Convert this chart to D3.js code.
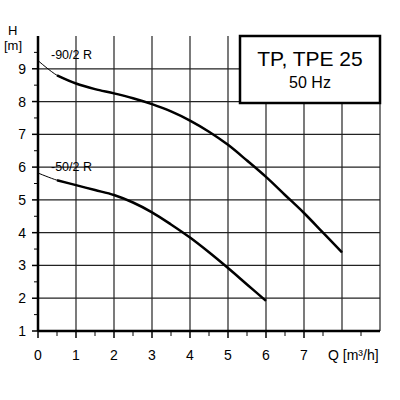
<!DOCTYPE html><html><head><script src="https://cdn.jsdelivr.net/npm/d3@7"></script>
<style>body{margin:0;background:#fff}text{font-family:Arial,"Liberation Sans",sans-serif}</style></head><body><svg width="400" height="400"></svg>
<script>
const xTicks=[0,1,2,3,4,5,6,7];
const yTicks=[1,2,3,4,5,6,7,8,9];
const q90=[0,0.5,1,1.5,2,2.5,3,3.5,4,4.5,5,5.5,6,6.5,7,7.5,8];
const h90=[9.25,8.8,8.55,8.38,8.25,8.1,7.92,7.7,7.42,7.08,6.68,6.2,5.7,5.15,4.6,4.0,3.4];
const q50=[0,0.5,1,1.5,2,2.5,3,3.5,4,4.5,5,5.5,6];
const h50=[5.82,5.6,5.45,5.3,5.15,4.92,4.62,4.25,3.85,3.4,2.92,2.42,1.92];
const svg=d3.select("svg");
const x=d3.scaleLinear().domain([0,9]).range([38,380]);
const y=d3.scaleLinear().domain([1,10]).range([331,36]);
const g=svg.append("g");
d3.range(1,10).forEach(v=>g.append("line").attr("x1",x(v)).attr("x2",x(v)).attr("y1",y(1)).attr("y2",y(10)).attr("stroke","#222").attr("stroke-width",1.2));
d3.range(2,10).forEach(v=>g.append("line").attr("x1",x(0)).attr("x2",x(9)).attr("y1",y(v)).attr("y2",y(v)).attr("stroke","#222").attr("stroke-width",1.2));
d3.range(0.5,9,1).forEach(v=>g.append("line").attr("x1",x(v)).attr("x2",x(v)).attr("y1",y(1)).attr("y2",y(1)+5).attr("stroke","#000"));
xTicks.forEach(v=>g.append("line").attr("x1",x(v)).attr("x2",x(v)).attr("y1",y(1)).attr("y2",y(1)+7).attr("stroke","#000").attr("stroke-width",1.5));
d3.range(1.5,10,1).forEach(v=>g.append("line").attr("x1",x(0)-4).attr("x2",x(0)).attr("y1",y(v)).attr("y2",y(v)).attr("stroke","#000"));
yTicks.forEach(v=>g.append("line").attr("x1",x(0)-6).attr("x2",x(0)).attr("y1",y(v)).attr("y2",y(v)).attr("stroke","#000").attr("stroke-width",1.5));
g.append("line").attr("x1",x(0)).attr("x2",x(0)).attr("y1",y(1)).attr("y2",y(10)).attr("stroke","#000").attr("stroke-width",2.5);
g.append("line").attr("x1",x(0)).attr("x2",x(9)).attr("y1",y(1)).attr("y2",y(1)).attr("stroke","#000").attr("stroke-width",2.5);
xTicks.forEach(v=>g.append("text").attr("x",x(v)).attr("y",360).attr("text-anchor","middle").attr("font-size",14).text(v));
yTicks.forEach(v=>g.append("text").attr("x",x(0)-12).attr("y",y(v)+5).attr("text-anchor","end").attr("font-size",14).text(v));
g.append("text").attr("x",328).attr("y",360).attr("font-size",14).text("Q [m³/h]");
g.append("text").attr("x",8).attr("y",35).attr("font-size",13).text("H");
g.append("text").attr("x",4).attr("y",50).attr("font-size",13).text("[m]");
const line=d3.line().x(d=>x(d[0])).y(d=>y(d[1])).curve(d3.curveCatmullRom);
[[q90,h90,"-90/2 R"],[q50,h50,"-50/2 R"]].forEach(([q,h,l])=>{
 const pts=q.map((v,i)=>[v,h[i]]);
 g.append("path").attr("d",line(pts)).attr("fill","none").attr("stroke","#000").attr("stroke-width",1);
 g.append("path").attr("d",line(pts.slice(1))).attr("fill","none").attr("stroke","#000").attr("stroke-width",2.5);
 g.append("text").attr("x",x(0)+13).attr("y",y(h[0])-2).attr("font-size",12.5).text(l);
});
g.append("rect").attr("x",240).attr("y",36).attr("width",140).attr("height",67).attr("fill","#fff").attr("stroke","#000").attr("stroke-width",2.5);
g.append("text").attr("x",310).attr("y",66).attr("text-anchor","middle").attr("font-size",21).text("TP, TPE 25");
g.append("text").attr("x",310).attr("y",88).attr("text-anchor","middle").attr("font-size",16).text("50 Hz");
</script></body></html>
